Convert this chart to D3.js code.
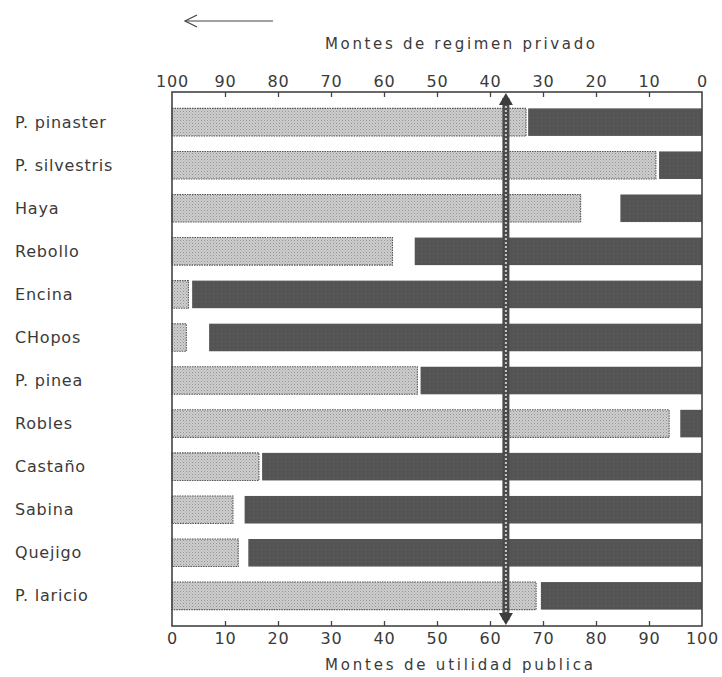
<!DOCTYPE html>
<html>
<head>
<meta charset="utf-8">
<script src="https://cdn.jsdelivr.net/npm/d3@7"></script>
<style>
  html, body { margin: 0; padding: 0; background: #fff; }
  svg { display: block; }
  text { font-family: "DejaVu Sans", sans-serif; fill: #3a3a3a; }
</style>
</head>
<body>
<svg id="chart" width="722" height="677"></svg>
<script>
// ---- data ----
const categories = ["P. pinaster","P. silvestris","Haya","Rebollo","Encina","CHopos","P. pinea","Robles","Castaño","Sabina","Quejigo","P. laricio"];
// % montes de utilidad pública (measured from the left, bottom axis)
const publica = [66.8, 91.3, 77.1, 41.6, 3.1, 2.7, 46.3, 93.8, 16.4, 11.5, 12.5, 68.7];
// % montes de régimen privado (measured from the right, top axis)
const privado = [32.8, 8.1, 15.4, 54.2, 96.2, 93.0, 53.1, 4.1, 83.0, 86.3, 85.6, 30.4];
const tickValues = [0, 10, 20, 30, 40, 50, 60, 70, 80, 90, 100];
const markerValue = 63; // vertical reference line (bottom-axis %)
const titleTop = "Montes de regimen privado";
const titleBottom = "Montes de utilidad publica";

// ---- layout ----
const svg = d3.select("#chart");
const pLeft = 172, pRight = 702, pTop = 92, pBottom = 626;

const xPub = d3.scaleLinear().domain([0, 100]).range([pLeft, pRight]);
const xPriv = d3.scaleLinear().domain([100, 0]).range([pLeft, pRight]);
const yBand = d3.scaleBand().domain(categories).range([pTop, pBottom]).paddingInner(0.36).paddingOuter(0.38);

// patterns
const defs = svg.append("defs");
const pl = defs.append("pattern").attr("id", "lightPat").attr("patternUnits", "userSpaceOnUse")
  .attr("width", 3).attr("height", 3);
pl.append("rect").attr("width", 3).attr("height", 3).attr("fill", "#cdcdcd");
pl.append("rect").attr("x", 0).attr("y", 0).attr("width", 1).attr("height", 1).attr("fill", "#949494");
pl.append("rect").attr("x", 1.5).attr("y", 1.5).attr("width", 1).attr("height", 1).attr("fill", "#aaaaaa");
const pd = defs.append("pattern").attr("id", "darkPat").attr("patternUnits", "userSpaceOnUse")
  .attr("width", 4).attr("height", 4);
pd.append("rect").attr("width", 4).attr("height", 4).attr("fill", "#545454");
pd.append("rect").attr("x", 1).attr("y", 1).attr("width", 1).attr("height", 1).attr("fill", "#616161");

const rows = categories.map((c, i) => ({ c, pub: publica[i], priv: privado[i] }));

// light bars (public)
svg.append("g").selectAll("rect").data(rows).join("rect")
  .attr("x", xPub(0))
  .attr("y", d => yBand(d.c))
  .attr("width", d => xPub(d.pub) - xPub(0))
  .attr("height", yBand.bandwidth())
  .attr("fill", "url(#lightPat)")
  .attr("stroke", "#555")
  .attr("stroke-width", 1.1)
  .attr("stroke-dasharray", "1.5,1");

// dark bars (private)
svg.append("g").selectAll("rect").data(rows).join("rect")
  .attr("x", d => xPriv(d.priv))
  .attr("y", d => yBand(d.c))
  .attr("width", d => xPriv(0) - xPriv(d.priv))
  .attr("height", yBand.bandwidth())
  .attr("fill", "url(#darkPat)");

// frame
svg.append("rect").attr("x", pLeft).attr("y", pTop).attr("width", pRight - pLeft).attr("height", pBottom - pTop)
  .attr("fill", "none").attr("stroke", "#444").attr("stroke-width", 1.6);

// axes
const axTop = svg.append("g").attr("transform", `translate(0,${pTop})`)
  .call(d3.axisTop(xPriv).tickValues(tickValues).tickSize(-5).tickPadding(5).tickFormat(d3.format("d")));
const axBot = svg.append("g").attr("transform", `translate(0,${pBottom})`)
  .call(d3.axisBottom(xPub).tickValues(tickValues).tickSize(-5).tickPadding(7).tickFormat(d3.format("d")));
[axTop, axBot].forEach(g => {
  g.select(".domain").remove();
  g.selectAll(".tick line").attr("stroke", "#444").attr("stroke-width", 1.3)
    .filter(d => d === 0 || d === 100).remove();
  g.selectAll(".tick text").attr("font-size", 16).attr("fill", "#3a3a3a")
    .attr("letter-spacing", "0.8px")
    .attr("font-family", "DejaVu Sans, sans-serif");
});

// category labels
svg.append("g").selectAll("text").data(categories).join("text")
  .attr("x", 15)
  .attr("y", d => yBand(d) + yBand.bandwidth() / 2)
  .attr("dy", "0.35em")
  .attr("font-size", 16)
  .attr("letter-spacing", "0.8px")
  .text(d => d);

// marker line
const mx = xPub(markerValue);
const mk = svg.append("g");
mk.append("rect").attr("x", mx - 3.5).attr("y", pTop + 6).attr("width", 7).attr("height", pBottom - pTop - 12)
  .attr("fill", "#4a4a4a");
mk.append("line").attr("x1", mx).attr("x2", mx).attr("y1", pTop + 6).attr("y2", pBottom - 6)
  .attr("stroke", "#c8c8c8").attr("stroke-width", 2).attr("stroke-dasharray", "2,2");
mk.append("path").attr("d", `M${mx},${pTop + 1} L${mx - 7},${pTop + 13} L${mx + 7},${pTop + 13} Z`).attr("fill", "#3c3c3c");
mk.append("path").attr("d", `M${mx},${pBottom - 1} L${mx - 7},${pBottom - 13} L${mx + 7},${pBottom - 13} Z`).attr("fill", "#3c3c3c");

// titles
svg.append("text").attr("x", 325).attr("y", 49).attr("font-size", 15)
  .attr("textLength", 270).attr("lengthAdjust", "spacing").text(titleTop);
svg.append("text").attr("x", 325).attr("y", 670).attr("font-size", 15)
  .attr("textLength", 268).attr("lengthAdjust", "spacing").text(titleBottom);

// direction arrow
const ar = svg.append("g").attr("stroke", "#444").attr("stroke-width", 1.2).attr("fill", "none");
ar.append("line").attr("x1", 273).attr("x2", 185).attr("y1", 21).attr("y2", 21);
ar.append("path").attr("d", "M197,15 L185,21 L197,27");
</script>
</body>
</html>
